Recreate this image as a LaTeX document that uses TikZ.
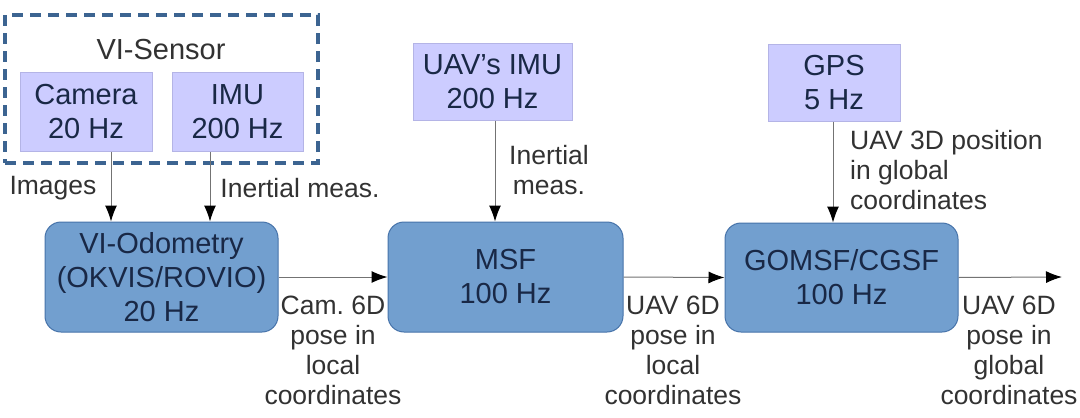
\documentclass[tikz,border=0pt]{standalone}
\usepackage{fontspec}
\setmainfont{Liberation Sans}
\usetikzlibrary{arrows.meta}
\frenchspacing
\definecolor{procfill}{RGB}{114,159,207}
\definecolor{procdraw}{RGB}{70,115,170}
\definecolor{sensfill}{RGB}{204,204,255}
\definecolor{sensdraw}{RGB}{180,180,230}
\definecolor{boxtext}{RGB}{25,40,70}
\definecolor{labtext}{RGB}{50,50,50}
\definecolor{dashcol}{RGB}{60,100,145}
\tikzset{
  x=1pt, y=-1pt,
  every node/.style={inner sep=0pt},
  boxfont/.style={font=\fontsize{29}{34}\selectfont},
  labfont/.style={font=\fontsize{26.5}{30}\selectfont},
  sensbox/.style={boxfont, draw=sensdraw, fill=sensfill, line width=1pt, text=boxtext, align=center},
  procbox/.style={boxfont, draw=procdraw, fill=procfill, line width=1pt, rounded corners=16pt, text=boxtext, align=center},
  lab/.style={labfont, text=labtext, align=center},
  flow/.style={draw=black!55, line width=1pt, -{Latex[length=16pt,width=12pt,color=black]}}
}
\begin{document}
\begin{tikzpicture}
\useasboundingbox (0,0) rectangle (1080,418);
\fill[white] (0,0) rectangle (1080,418);
% VI-Sensor group
\node[draw=dashcol, line width=3.5pt, dash pattern=on 11pt off 7pt, minimum width=313pt, minimum height=148pt] (grp) at (161.5,89) {};
\node[boxfont, text=labtext] (grplab) at (161,50) {VI-Sensor};
\node[sensbox, minimum width=132pt, minimum height=79pt] (cam) at (86,112) {Camera\\20 Hz};
\node[sensbox, minimum width=131pt, minimum height=79pt] (imu) at (237.5,112) {IMU\\200 Hz};
% processing blocks
\node[procbox, minimum width=233pt, minimum height=110pt] (vio) at (161.5,277) {VI-Odometry\\(OKVIS/ROVIO)\\20 Hz};
\node[procbox, minimum width=235pt, minimum height=110pt] (msf) at (505.5,277) {MSF\\100 Hz};
\node[procbox, minimum width=233pt, minimum height=109pt] (gom) at (841.5,277.5) {GOMSF/CGSF\\100 Hz};
% other sensors
\node[sensbox, minimum width=159pt, minimum height=77pt] (uimu) at (492.5,81.5) {UAV{\char"0027}s IMU\\200 Hz};
\node[sensbox, minimum width=132pt, minimum height=77pt] (gps) at (834,82.5) {GPS\\5 Hz};
% connectors
\draw[flow] (cam.south -| 111,0) -- (vio.north -| 111,0);
\draw[flow] (imu.south -| 210,0) -- (vio.north -| 210,0);
\draw[flow] (uimu.south -| 495,0) -- (msf.north -| 495,0);
\draw[flow] (gps.south -| 833,0) -- (gom.north -| 833,0);
\draw[flow] (vio.east) -- (msf.west);
\draw[flow] (msf.east) -- (gom.west);
\coordinate (out) at (1062,277);
\draw[flow] (gom.east) -- (out);
% labels
\node[lab] (limg) at (53,188) {Images};
\node[lab] (lin1) at (300,188) {Inertial meas.};
\node[lab] (lin2) at (549,170) {Inertial\\meas.};
\node[lab, align=left, anchor=west] (lgps) at (850,170) {UAV 3D position\\in global\\coordinates};
\node[lab] (lcam) at (333,350) {Cam. 6D\\pose in\\local\\coordinates};
\node[lab] (lmsf) at (673,350) {UAV 6D\\pose in\\local\\coordinates};
\node[lab] (lgom) at (1009,350) {UAV 6D\\pose in\\global\\coordinates};
\end{tikzpicture}
\end{document}
